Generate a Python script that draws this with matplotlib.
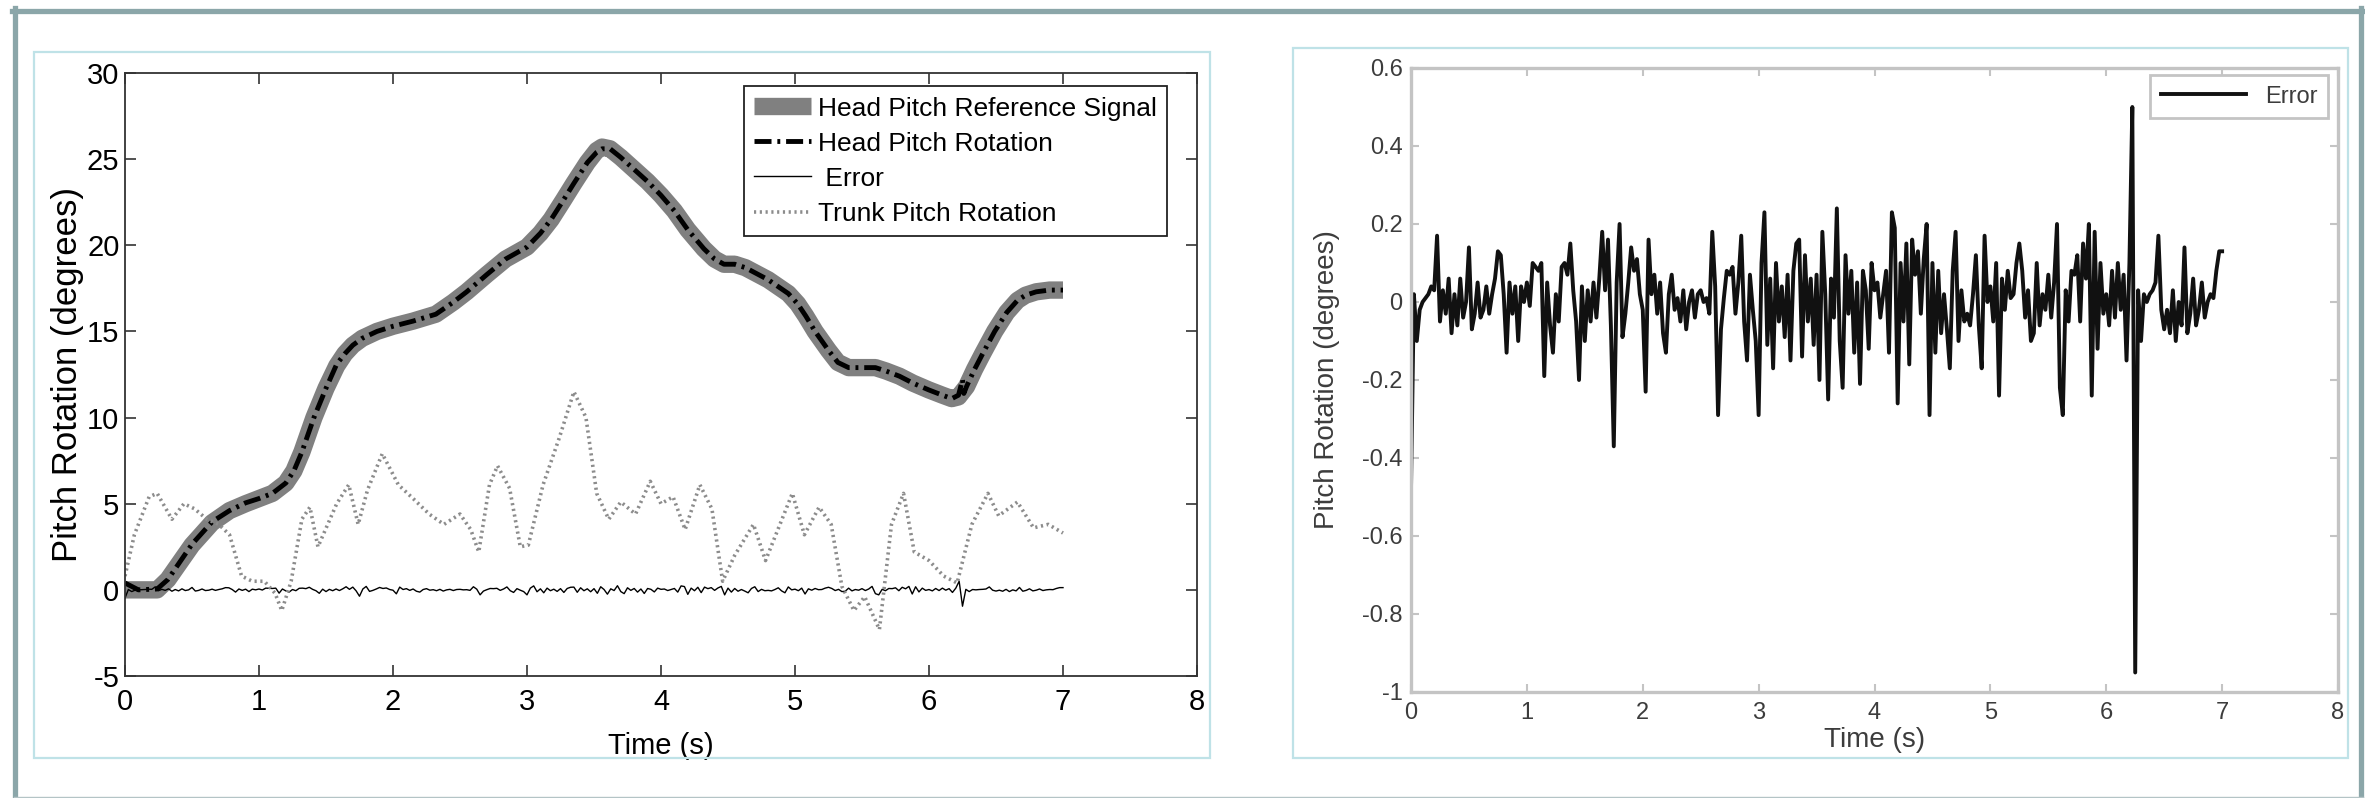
import numpy as np
import matplotlib
matplotlib.use('Agg')
import matplotlib.pyplot as plt
from matplotlib.patches import Rectangle
from matplotlib.lines import Line2D

plt.rcParams['font.family'] = ['Liberation Sans', 'DejaVu Sans']
plt.rcParams['axes.unicode_minus'] = False

# Head pitch reference signal (deg)
ref_t = [0.0, 0.24, 0.32, 0.5, 0.65, 0.78, 0.9, 1.0, 1.1, 1.2, 1.26, 1.32, 1.41, 1.5, 1.58,
         1.64, 1.7, 1.77, 1.88, 2.0, 2.15, 2.32, 2.45, 2.55, 2.7, 2.84, 3.0, 3.1, 3.18, 3.27,
         3.35, 3.45, 3.52, 3.56, 3.62, 3.7, 3.8, 3.9, 4.0, 4.1, 4.2, 4.32, 4.4, 4.47, 4.55,
         4.63, 4.8, 4.95, 5.02, 5.08, 5.15, 5.25, 5.32, 5.4, 5.5, 5.6, 5.68, 5.78, 5.88, 6.0,
         6.1, 6.17, 6.22, 6.28, 6.34, 6.4, 6.49, 6.58, 6.66, 6.72, 6.8, 6.9, 7.0]
ref_deg = [0.0, 0.0, 0.6, 2.6, 3.9, 4.6, 5.0, 5.3, 5.6, 6.2, 6.9, 8.0, 10.0, 11.7, 13.0,
           13.7, 14.2, 14.6, 15.0, 15.3, 15.6, 16.0, 16.7, 17.3, 18.3, 19.2, 19.9, 20.7, 21.5, 22.6,
           23.6, 24.8, 25.5, 25.7, 25.6, 25.1, 24.4, 23.7, 22.9, 22.0, 20.9, 19.8, 19.2, 18.9, 18.9,
           18.7, 18.0, 17.2, 16.6, 15.9, 15.0, 13.9, 13.2, 12.9, 12.9, 12.9, 12.7, 12.4, 12.0, 11.6,
           11.3, 11.1, 11.2, 11.8, 12.8, 13.7, 15.0, 16.1, 16.8, 17.1, 17.3, 17.4, 17.4]

# Head pitch rotation (deg)
rot_t = [0.0, 0.1, 0.24, 0.32, 0.5, 0.65, 0.78, 0.9, 1.0, 1.1, 1.2, 1.26, 1.32, 1.41, 1.5,
         1.58, 1.64, 1.7, 1.77, 1.88, 2.0, 2.15, 2.32, 2.45, 2.55, 2.7, 2.84, 3.0, 3.1, 3.18,
         3.27, 3.35, 3.45, 3.52, 3.56, 3.62, 3.7, 3.8, 3.9, 4.0, 4.1, 4.2, 4.32, 4.4, 4.47,
         4.55, 4.63, 4.8, 4.95, 5.02, 5.08, 5.15, 5.25, 5.32, 5.4, 5.5, 5.6, 5.68, 5.78, 5.88,
         6.0, 6.1, 6.17, 6.22, 6.24, 6.25, 6.26, 6.28, 6.34, 6.4, 6.49, 6.58, 6.66, 6.72, 6.8,
         6.9, 7.0]
rot_deg = [0.4, 0.0, 0.05, 0.6, 2.65, 3.95, 4.6, 5.05, 5.3, 5.6, 6.2, 6.9, 8.0, 10.0, 11.7,
           13.1, 13.7, 14.2, 14.6, 15.0, 15.3, 15.6, 16.0, 16.7, 17.3, 18.3, 19.2, 19.9, 20.7, 21.5,
           22.6, 23.6, 24.8, 25.4, 25.6, 25.6, 25.1, 24.4, 23.7, 22.9, 22.0, 20.9, 19.8, 19.2, 18.9,
           18.9, 18.7, 18.0, 17.2, 16.6, 15.9, 15.0, 13.9, 13.2, 12.9, 12.9, 12.9, 12.7, 12.4, 12.0,
           11.6, 11.3, 11.1, 11.3, 11.9, 12.2, 11.4, 11.8, 12.8, 13.7, 15.0, 16.1, 16.8, 17.1, 17.3,
           17.4, 17.4]

# Trunk pitch rotation (deg)
trunk_t = [0.0, 0.07, 0.18, 0.24, 0.35, 0.44, 0.52, 0.61, 0.7, 0.78, 0.87, 0.95, 1.04, 1.12,
           1.17, 1.24, 1.32, 1.38, 1.44, 1.58, 1.67, 1.74, 1.81, 1.92, 2.04, 2.15, 2.27, 2.38,
           2.5, 2.58, 2.64, 2.72, 2.78, 2.87, 2.95, 3.01, 3.12, 3.24, 3.35, 3.44, 3.52, 3.61,
           3.7, 3.81, 3.92, 4.0, 4.09, 4.18, 4.29, 4.38, 4.46, 4.55, 4.69, 4.78, 4.98, 5.07,
           5.18, 5.27, 5.35, 5.44, 5.52, 5.63, 5.72, 5.81, 5.89, 6.0, 6.11, 6.21, 6.32, 6.44,
           6.52, 6.66, 6.78, 6.89, 7.0]
trunk_deg = [0.8, 3.2, 5.4, 5.6, 4.1, 5.0, 4.7, 4.1, 3.8, 3.2, 0.8, 0.5, 0.5, -0.2,
             -1.2, 0.5, 4.1, 4.8, 2.5, 5.0, 6.1, 3.8, 5.8, 7.9, 6.1, 5.3, 4.4, 3.8,
             4.4, 3.5, 2.2, 6.1, 7.2, 5.9, 2.5, 2.6, 6.1, 8.8, 11.5, 10.0, 5.6, 4.1,
             5.1, 4.4, 6.3, 5.0, 5.4, 3.5, 6.1, 4.7, 0.5, 2.0, 3.8, 1.7, 5.6, 3.2,
             4.8, 3.8, 0.2, -1.2, -0.4, -2.3, 3.8, 5.6, 2.2, 1.7, 0.8, 0.4, 3.8, 5.6,
             4.3, 5.1, 3.6, 3.8, 3.3]

# Error (deg), one value every 0.025 s from 0 to 7 s
err_deg = [
    -0.48, 0.02, -0.10, -0.02, 0.00, 0.01, 0.02, 0.04, 0.03, 0.17, -0.05, 0.03, -0.03, 0.06, -0.08, 0.02, -0.06, 0.06, -0.04, 0.00,
    0.14, -0.07, -0.03, 0.05, -0.04, -0.02, 0.04, -0.03, 0.02, 0.06, 0.13, 0.12, 0.02, -0.13, 0.05, -0.03, 0.04, -0.10, 0.04, 0.00,
    0.05, -0.01, 0.10, 0.09, 0.08, 0.10, -0.19, 0.05, -0.06, -0.13, 0.02, -0.05, 0.09, 0.10, 0.07, 0.15, 0.03, -0.05, -0.20, 0.04,
    -0.10, 0.03, -0.05, 0.05, -0.04, 0.06, 0.18, 0.03, 0.16, -0.06, -0.37, 0.05, 0.20, -0.09, -0.03, 0.05, 0.14, 0.08, 0.11, 0.02,
    -0.02, -0.23, 0.16, 0.02, 0.07, -0.03, 0.05, -0.08, -0.13, 0.02, 0.07, -0.02, 0.01, -0.05, 0.03, -0.07, 0.00, 0.03, -0.04, 0.02,
    0.03, 0.00, 0.01, -0.03, 0.18, 0.04, -0.29, -0.07, 0.01, 0.08, 0.07, 0.09, -0.03, 0.05, 0.17, -0.05, -0.15, 0.07, -0.02, -0.10,
    -0.29, 0.10, 0.23, -0.11, 0.06, -0.17, 0.10, -0.05, 0.04, -0.09, 0.07, -0.15, 0.08, 0.15, 0.16, -0.14, 0.12, -0.05, 0.06, -0.11,
    0.07, -0.20, 0.18, 0.02, -0.25, 0.06, -0.04, 0.24, -0.10, -0.22, 0.12, -0.03, 0.08, -0.13, 0.05, -0.21, 0.08, 0.03, -0.12, 0.10,
    0.03, 0.05, -0.04, 0.02, 0.08, -0.13, 0.23, 0.19, -0.26, 0.10, -0.05, 0.15, -0.16, 0.16, 0.07, 0.13, -0.03, 0.11, 0.20, -0.29,
    0.10, -0.13, 0.08, -0.08, 0.02, -0.07, -0.17, 0.08, 0.18, -0.10, 0.03, -0.05, -0.03, -0.06, 0.02, 0.12, -0.06, -0.17, 0.17, 0.00,
    0.04, -0.05, 0.10, -0.24, 0.06, -0.02, 0.08, 0.01, 0.02, 0.10, 0.15, 0.08, -0.04, 0.03, -0.10, -0.08, 0.10, -0.06, 0.02, -0.02,
    0.07, -0.04, 0.05, 0.20, -0.22, -0.29, 0.03, -0.05, 0.08, 0.07, 0.12, -0.05, 0.15, 0.06, 0.20, -0.24, 0.18, -0.12, 0.10, -0.03,
    0.02, -0.06, 0.08, -0.04, 0.10, -0.02, 0.07, -0.15, 0.10, 0.50, -0.95, 0.03, -0.10, 0.02, 0.00, 0.02, 0.03, 0.05, 0.17, -0.02,
    -0.07, -0.02, -0.08, 0.03, -0.10, 0.00, -0.06, 0.14, -0.08, -0.03, 0.06, -0.06, -0.02, 0.05, -0.04, 0.00, 0.02, 0.01, 0.08, 0.13,
    0.13]
err_t = np.linspace(0, 7, len(err_deg))

W, H = 2365, 798
fig = plt.figure(figsize=(W / 100, H / 100), dpi=100)

def fx(px):
    return px / W

def fy(py):
    return 1 - py / H

# outer frame
frame_c = '#8ba6a9'
fig.add_artist(Line2D([fx(12), fx(2363)], [fy(10.5), fy(10.5)], lw=3.8, color=frame_c))
fig.add_artist(Line2D([fx(14.5), fx(14.5)], [fy(8), fy(798)], lw=3.8, color=frame_c))
fig.add_artist(Line2D([fx(2360.5), fx(2360.5)], [fy(8), fy(798)], lw=3.8, color=frame_c))
fig.add_artist(Line2D([fx(14), fx(2363)], [fy(797), fy(797)], lw=1.0, color='#b4c4c6'))

# panel borders
panel_c = '#bfe2e7'
fig.add_artist(Rectangle((fx(34), fy(758)), fx(1210 - 34), (758 - 52) / H,
                         fill=False, lw=1.6, ec=panel_c))
fig.add_artist(Rectangle((fx(1293), fy(758)), fx(2348 - 1293), (758 - 48) / H,
                         fill=False, lw=1.6, ec=panel_c))

# ---- left plot ----
ax1 = fig.add_axes([fx(125), fy(676), fx(1197 - 125), (676 - 73) / H])
ax1.plot(ref_t, ref_deg, color='#808080', lw=12.5, solid_capstyle='butt',
         solid_joinstyle='round', label='Head Pitch Reference Signal')
ax1.plot(rot_t, rot_deg, color='black', lw=3.5, linestyle=(0, (3.5, 1.2, 0.6, 1.2)),
         label='Head Pitch Rotation')
ax1.plot(err_t, err_deg, color='black', lw=1.0, label=' Error')
ax1.plot(trunk_t, trunk_deg, color='#8c8c8c', lw=2.6, linestyle=(0, (0.6, 1.0)),
         label='Trunk Pitch Rotation')
ax1.set_xlim(0, 8)
ax1.set_ylim(-5, 30)
ax1.set_xticks(range(0, 9))
ax1.set_yticks(range(-5, 31, 5))
ax1.tick_params(direction='in', length=8, width=1.2, top=True, right=True,
                labelsize=21, color='#333333')
ax1.tick_params(axis='x', pad=9)
ax1.tick_params(axis='y', pad=4)
for s in ax1.spines.values():
    s.set_color('#333333')
    s.set_linewidth(1.3)
ax1.set_xlabel('Time (s)', fontsize=21)
ax1.set_ylabel('Pitch Rotation (degrees)', fontsize=25, va='center')
ax1.xaxis.set_label_coords(0.5, -0.093)
ax1.yaxis.set_label_coords((68 - 125) / 1072, 0.5)
leg1 = ax1.legend(loc='upper right', bbox_to_anchor=((1167 - 125) / 1072, (676 - 86) / 603),
                  borderaxespad=0, fontsize=19, fancybox=False, framealpha=1,
                  edgecolor='#222222', handlelength=2.15, handletextpad=0.25,
                  labelspacing=0.42, borderpad=0.4)
leg1.get_frame().set_linewidth(1.3)

# ---- right plot ----
gray_txt = '#3c3c3c'
ax2 = fig.add_axes([fx(1411), fy(692), fx(2338 - 1411), (692 - 68) / H])
ax2.plot(err_t, err_deg, color='#111111', lw=2.8, label='Error')
ax2.set_xlim(0, 8)
ax2.set_ylim(-1, 0.6)
ax2.set_xticks(range(0, 9))
ax2.set_yticks([-1, -0.8, -0.6, -0.4, -0.2, 0, 0.2, 0.4, 0.6])
ax2.set_yticklabels(['-1', '-0.8', '-0.6', '-0.4', '-0.2', '0', '0.2', '0.4', '0.6'])
ax2.tick_params(direction='in', length=6, width=1.5, top=True, right=True,
                labelsize=17, color='#c4c4c4', labelcolor=gray_txt)
ax2.tick_params(axis='x', pad=7)
ax2.tick_params(axis='y', pad=6)
for s in ax2.spines.values():
    s.set_color('#c4c4c4')
    s.set_linewidth(2.4)
ax2.set_xlabel('Time (s)', fontsize=20, color=gray_txt)
ax2.set_ylabel('Pitch Rotation (degrees)', fontsize=20, color=gray_txt, va='center')
ax2.xaxis.set_label_coords(0.5, -0.056)
ax2.yaxis.set_label_coords((1327 - 1411) / 927, 0.5)
leg2 = ax2.legend(loc='upper right', bbox_to_anchor=((2328 - 1411) / 927, (692 - 75) / 624),
                  borderaxespad=0, fontsize=17, fancybox=False, framealpha=1,
                  edgecolor='#c4c4c4', handlelength=3.6, handletextpad=0.8, borderpad=0.45)
leg2.get_frame().set_linewidth(2.0)
for t in leg2.get_texts():
    t.set_color(gray_txt)

fig.savefig('out.png', dpi=100)
